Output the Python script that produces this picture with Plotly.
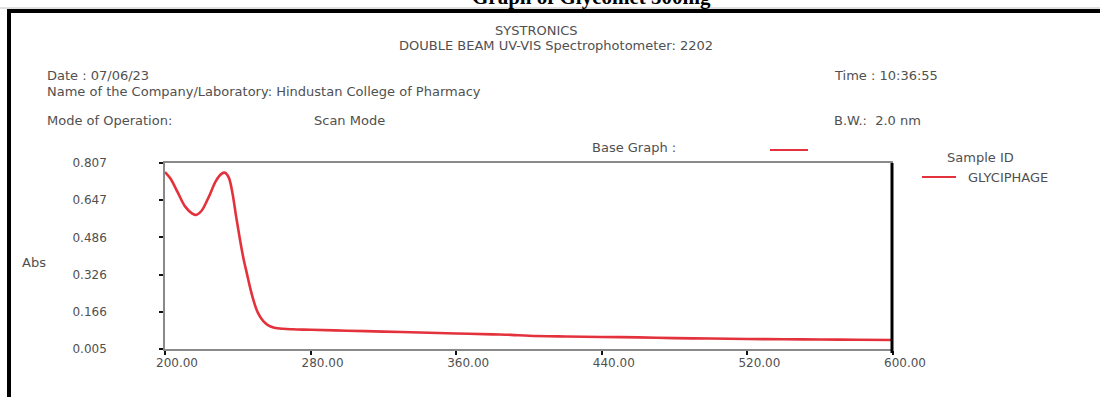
import plotly.graph_objects as go

# Data
wavelength = [200, 203, 207, 211, 215, 217, 220, 224, 228, 231, 233, 235, 237, 239, 241, 243, 245,
              247, 249, 251, 254, 257, 260, 265, 270, 280, 300, 320, 340, 360, 380, 390, 400, 420,
              440, 460, 480, 500, 520, 540, 560, 580, 600]
absorbance = [0.768, 0.740, 0.680, 0.620, 0.589, 0.583, 0.600, 0.660, 0.730, 0.760, 0.765, 0.745,
              0.680, 0.580, 0.486, 0.400, 0.330, 0.262, 0.205, 0.162, 0.125, 0.106, 0.097, 0.092,
              0.090, 0.088, 0.084, 0.080, 0.076, 0.072, 0.068, 0.066, 0.062, 0.059, 0.057, 0.055,
              0.052, 0.050, 0.048, 0.047, 0.046, 0.045, 0.044]
x_ticks = [200, 280, 360, 440, 520, 600]
x_tick_labels = ["200.00", "280.00", "360.00", "440.00", "520.00", "600.00"]
y_ticks = [0.005, 0.166, 0.326, 0.486, 0.647, 0.807]
y_tick_labels = ["0.005", "0.166", "0.326", "0.486", "0.647", "0.807"]

W, H = 1100, 397
L, R, T, B = 165, 893, 163, 349
pw, ph = R - L, B - T


def px(x):
    return (x - L) / pw


def py(y):
    return (B - y) / ph


FONT = "DejaVu Sans, Verdana, sans-serif"
TXT = "#505050"

fig = go.Figure()
fig.add_trace(go.Scatter(x=wavelength, y=absorbance, mode="lines",
                         line=dict(color="#e3323c", width=2.6, shape="spline"),
                         name="GLYCIPHAGE", showlegend=False))

fig.update_layout(
    width=W, height=H,
    margin=dict(l=L, r=W - R, t=T, b=H - B),
    paper_bgcolor="white", plot_bgcolor="white",
    xaxis=dict(range=[200, 600], tickvals=x_ticks, ticktext=x_tick_labels, showgrid=False, zeroline=False,
               showline=True, linecolor="#8a8a8a", linewidth=1.5, mirror=True,
               ticks="outside", ticklen=4, tickcolor="#111", tickwidth=2, ticklabelshift=12,
               ticklabelstandoff=-2,
               tickfont=dict(family=FONT, size=12, color=TXT)),
    yaxis=dict(range=[0.005, 0.807], tickvals=y_ticks, ticktext=y_tick_labels, showgrid=False, zeroline=False,
               showline=True, linecolor="#8a8a8a", linewidth=1.5,
               ticks="outside", ticklen=4, tickcolor="#111", tickwidth=2, ticklabelstandoff=50,
               tickfont=dict(family=FONT, size=12, color=TXT)),
)

shapes = [
    dict(type="line", xref="paper", yref="paper", x0=px(0), x1=px(W), y0=py(8), y1=py(8),
         line=dict(color="#c0c0c0", width=1)),
    dict(type="line", xref="paper", yref="paper", x0=px(7), x1=px(W), y0=py(11), y1=py(11),
         line=dict(color="black", width=4)),
    dict(type="line", xref="paper", yref="paper", x0=px(9), x1=px(9), y0=py(9), y1=py(H),
         line=dict(color="black", width=4)),
    dict(type="line", xref="paper", yref="paper", x0=px(892), x1=px(892), y0=py(163), y1=py(353),
         line=dict(color="black", width=3)),
    dict(type="line", xref="paper", yref="paper", x0=px(770), x1=px(808), y0=py(150), y1=py(150),
         line=dict(color="#e3323c", width=2)),
    dict(type="line", xref="paper", yref="paper", x0=px(922), x1=px(956), y0=py(177), y1=py(177),
         line=dict(color="#e3323c", width=2)),
]
fig.update_layout(shapes=shapes)


def ann(text, x, y, size=13, anchor="left", color=TXT, family=FONT, bold=False):
    t = f"<b>{text}</b>" if bold else text
    fig.add_annotation(text=t, xref="paper", yref="paper", x=px(x), y=py(y), xanchor=anchor, yanchor="middle",
                       showarrow=False, font=dict(family=family, size=size, color=color))


ann("Graph of Glycomet 500mg", 591, -3, size=21, anchor="center", color="black",
    family="Liberation Serif, Times New Roman, serif", bold=True)
ann("SYSTRONICS", 536, 30, anchor="center")
ann("DOUBLE BEAM UV-VIS Spectrophotometer: 2202", 556, 46, anchor="center")
ann("Date : 07/06/23", 45, 75)
ann("Name of the Company/Laboratory: Hindustan College of Pharmacy", 45, 92)
ann("Mode of Operation:", 45, 120)
ann("Scan Mode", 312, 120)
ann("Time : 10:36:55", 832, 75)
ann("B.W.:  2.0 nm", 832, 120)
ann("Base Graph :", 590, 147)
ann("Sample ID", 945, 157)
ann("GLYCIPHAGE", 966, 177)
ann("Abs", 20, 262)

fig.write_html("out.html", config={"displayModeBar": False},
               post_script="document.body.style.margin='0';")
